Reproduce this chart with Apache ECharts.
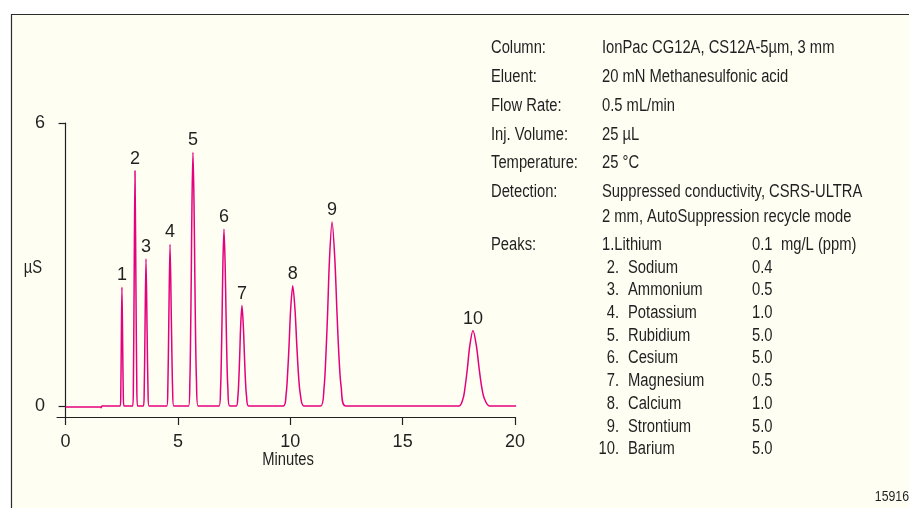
<!DOCTYPE html>
<html>
<head>
<meta charset="utf-8">
<script src="https://cdn.jsdelivr.net/npm/echarts@6/dist/echarts.min.js"></script>
<style>
  html, body { margin: 0; padding: 0; background: #ffffff; }
  #chart { width: 909px; height: 508px; }
</style>
</head>
<body>
<div id="chart"></div>
<script>
// chromatogram trace (minutes, µS)
var times = [0, 1.55, 1.58, 1.62,
    2.435, 2.458, 2.480, 2.51, 2.543, 2.57, 2.60,
    2.99, 3.02, 3.051, 3.09, 3.133, 3.17, 3.205,
    3.466, 3.50, 3.535, 3.58, 3.63, 3.67, 3.713,
    4.506, 4.55, 4.593, 4.65, 4.712, 4.765, 4.818,
    5.475, 5.533, 5.561, 5.593, 5.626, 5.67, 5.717, 5.755, 5.79, 5.826, 5.898,
    6.834, 6.899, 6.93, 6.965, 7.002, 7.05, 7.102, 7.144, 7.183, 7.223, 7.302,
    7.595, 7.671, 7.708, 7.75, 7.793, 7.85, 7.911, 7.961, 8.007, 8.054, 8.148,
    9.69, 9.816, 9.876, 9.945, 10.016, 10.11, 10.211, 10.292, 10.369, 10.446, 10.60,
    11.35, 11.503, 11.576, 11.66, 11.746, 11.86, 11.982, 12.081, 12.175, 12.268, 12.455,
    17.50, 17.689, 17.779, 17.882, 17.989, 18.13, 18.281, 18.403, 18.519, 18.634, 18.865,
    20.05];
var signal = [-0.02, -0.02, -0.035, 0,
    0, 0.25, 1.26, 2.52, 1.26, 0.25, 0,
    0, 0.5, 2.5, 4.99, 2.5, 0.5, 0,
    0, 0.31, 1.56, 3.12, 1.56, 0.31, 0,
    0, 0.34, 1.72, 3.43, 1.72, 0.34, 0,
    0, 0.54, 1.35, 2.69, 4.30, 5.38, 4.30, 2.69, 1.35, 0.54, 0,
    0, 0.375, 0.94, 1.875, 3.0, 3.75, 3.0, 1.875, 0.94, 0.375, 0,
    0, 0.213, 0.53, 1.065, 1.70, 2.13, 1.70, 1.065, 0.53, 0.213, 0,
    0, 0.255, 0.64, 1.275, 2.04, 2.55, 2.04, 1.275, 0.64, 0.255, 0,
    0, 0.39, 0.975, 1.95, 3.12, 3.90, 3.12, 1.95, 0.975, 0.39, 0,
    0, 0.16, 0.40, 0.80, 1.28, 1.60, 1.28, 0.80, 0.40, 0.16, 0,
    0];

// peak numbers placed over the apexes
var peakIds = ['1', '2', '3', '4', '5', '6', '7', '8', '9', '10'];
var peakTimes = [2.51, 3.09, 3.58, 4.65, 5.67, 7.05, 7.85, 10.11, 11.86, 18.13];
var peakHeights = [2.52, 4.99, 3.12, 3.43, 5.38, 3.75, 2.13, 2.55, 3.90, 1.60];

var xTicks = [0, 5, 10, 15, 20];
var yTicks = [0, 6];

// conditions panel
var infoLabels = ['Column:', 'Eluent:', 'Flow Rate:', 'Inj. Volume:', 'Temperature:', 'Detection:'];
var infoValues = ['IonPac CG12A, CS12A-5µm, 3 mm', '20 mN Methanesulfonic acid', '0.5 mL/min',
    '25 µL', '25 °C', 'Suppressed conductivity, CSRS-ULTRA'];
var infoExtra = '2 mm, AutoSuppression recycle mode';
var peakNames = ['Lithium', 'Sodium', 'Ammonium', 'Potassium', 'Rubidium', 'Cesium',
    'Magnesium', 'Calcium', 'Strontium', 'Barium'];
var peakConc = ['0.1', '0.4', '0.5', '1.0', '5.0', '5.0', '0.5', '1.0', '5.0', '5.0'];
var concUnit = 'mg/L (ppm)';
var figNo = '15916';

var FONT = '"Liberation Sans", Arial, sans-serif';
var INK = '#231f20';

// narrow text: Liberation Sans squeezed to look like the condensed original
function txt(s, x, y, align, size) {
    return {
        type: 'text', z: 10, x: x, y: y, scaleX: 0.82,
        style: {
            text: s, x: 0, y: 0, fill: INK,
            font: (size || 18) + 'px ' + FONT,
            textAlign: align || 'left', textVerticalAlign: 'middle'
        }
    };
}

var graphics = [{
    type: 'rect', z: -10,
    shape: { x: 11.5, y: 14.5, width: 1000, height: 600 },
    style: { fill: '#fefef3', stroke: '#2b2b2b', lineWidth: 1.2 }
}];
var infoY = [48, 77, 106, 135, 163, 192];
for (var i = 0; i < infoLabels.length; i++) {
    graphics.push(txt(infoLabels[i], 491, infoY[i]));
    graphics.push(txt(infoValues[i], 602, infoY[i]));
}
graphics.push(txt(infoExtra, 602, 217));
graphics.push(txt('Peaks:', 491, 245));
for (var j = 0; j < peakNames.length; j++) {
    var ry = 245 + j * 22.7;
    if (j == 0) {
        graphics.push(txt((j + 1) + '.' + peakNames[j], 602, ry));
        graphics.push(txt(concUnit, 781, ry));
    } else {
        graphics.push(txt((j + 1) + '.', 619, ry, 'right'));
        graphics.push(txt(peakNames[j], 628, ry));
    }
    graphics.push(txt(peakConc[j], 752, ry));
}
graphics.push(txt(figNo, 909, 497, 'right', 15));
graphics.push(txt('Minutes', 288, 460, 'center'));
graphics.push(txt('µS', 33, 268, 'center'));

var trace = [];
for (var k = 0; k < times.length; k++) trace.push([times[k], signal[k]]);
var apexes = [];
for (var m = 0; m < peakTimes.length; m++) apexes.push([peakTimes[m], peakHeights[m], peakIds[m]]);

var chart = echarts.init(document.getElementById('chart'));
chart.setOption({
    animation: false,
    backgroundColor: '#ffffff',
    textStyle: { fontFamily: FONT, color: INK },
    graphic: graphics,
    grid: { left: 57, right: 394, top: 123, bottom: 91 },
    xAxis: {
        type: 'value', min: -0.38, max: 20,
        axisLine: { onZero: false, lineStyle: { color: INK, width: 1.2 } },
        axisTick: { customValues: xTicks, length: 8, lineStyle: { color: INK, width: 1.2 } },
        axisLabel: { customValues: xTicks, margin: 16, fontSize: 18, color: INK, fontFamily: FONT },
        splitLine: { show: false }
    },
    yAxis: {
        type: 'value', min: -0.233, max: 6,
        axisLine: { onZero: true, lineStyle: { color: INK, width: 1.2 } },
        axisTick: { customValues: yTicks, length: 7, lineStyle: { color: INK, width: 1.2 } },
        axisLabel: { customValues: yTicks, margin: 12, fontSize: 18, color: INK, fontFamily: FONT },
        splitLine: { show: false }
    },
    series: [{
        type: 'line',
        data: trace,
        showSymbol: false,
        smooth: 0.3,
        lineStyle: { color: '#e5007d', width: 1.5 }
    }, {
        type: 'scatter',
        data: apexes,
        symbolSize: 0,
        label: {
            show: true, position: 'top', distance: 3, opacity: 1,
            formatter: function (p) { return p.value[2]; },
            fontSize: 18, color: INK, fontFamily: FONT
        }
    }]
});
</script>
</body>
</html>
